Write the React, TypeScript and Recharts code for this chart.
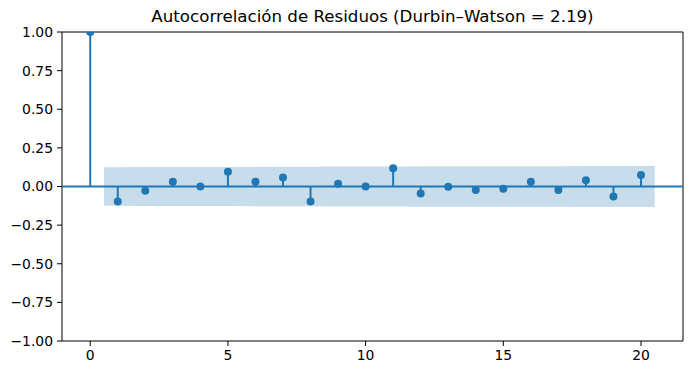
import {
  ComposedChart,
  Area,
  Scatter,
  XAxis,
  YAxis,
  ReferenceLine,
  ReferenceArea,
} from 'recharts';

const BLUE = '#1f77b4';

// Lags and autocorrelation values
const lags = [0, 1, 2, 3, 4, 5, 6, 7, 8, 9, 10, 11, 12, 13, 14, 15, 16, 17, 18, 19, 20];
const acfValues = [
  1.0, -0.097, -0.028, 0.03, 0.0, 0.095, 0.03, 0.058, -0.097, 0.017, 0.0,
  0.118, -0.045, -0.002, -0.022, -0.015, 0.03, -0.022, 0.04, -0.065, 0.075,
];
// Half-width of the 95% confidence band, lags 1..20
const bandHalfWidth = [
  0.125, 0.126, 0.126, 0.126, 0.126, 0.128, 0.128, 0.128, 0.129, 0.129,
  0.129, 0.131, 0.131, 0.131, 0.131, 0.131, 0.131, 0.132, 0.132, 0.132,
];
const xTicks = [0, 5, 10, 15, 20];
const yTicks = [-1, -0.75, -0.5, -0.25, 0, 0.25, 0.5, 0.75, 1];

const points = lags.map((lag, i) => ({ lag, acf: acfValues[i] }));
const bandLags = lags.slice(1);
const band = bandLags.map((lag, i) => ({
  lag: i === 0 ? lag - 0.5 : i === bandLags.length - 1 ? lag + 0.5 : lag,
  range: [-bandHalfWidth[i], bandHalfWidth[i]],
}));

const fmtY = (v: number) => {
  const s = Math.abs(v).toFixed(2);
  return v < 0 ? `\u2212${s}` : s;
};

const tickStyle = { fontSize: 13.9, fill: '#000', fontFamily: 'DejaVu Sans' };

export default function App() {
  return (
    <div style={{ position: 'absolute', left: 0, top: 0, width: 692, height: 374, background: '#fff' }}>
      <div
        style={{
          position: 'absolute',
          left: 62,
          width: 621,
          top: 7,
          textAlign: 'center',
          fontFamily: 'DejaVu Sans',
          fontSize: 16.67,
          lineHeight: '20px',
          color: '#000',
        }}
      >
        Autocorrelación de Residuos (Durbin–Watson = 2.19)
      </div>
      <ComposedChart width={692} height={374} margin={{ top: 32, right: 9, left: 0, bottom: 0 }}>
        <XAxis
          dataKey="lag"
          type="number"
          domain={[-1.025, 21.525]}
          ticks={xTicks}
          allowDataOverflow
          height={33}
          tick={tickStyle}
          tickSize={5}
          tickMargin={4}
          stroke="#000"
          axisLine={false}
        />
        <YAxis
          type="number"
          domain={[-1, 1]}
          ticks={yTicks}
          tickFormatter={fmtY}
          allowDataOverflow
          width={62}
          tick={tickStyle}
          tickSize={5}
          tickMargin={4}
          stroke="#000"
          axisLine={false}
        />
        <Area
          data={band}
          dataKey="range"
          type="linear"
          stroke="none"
          fill={BLUE}
          fillOpacity={0.25}
          isAnimationActive={false}
        />
        <ReferenceLine y={0} stroke={BLUE} strokeWidth={2} />
        {points.map((p) => (
          <ReferenceLine
            key={p.lag}
            segment={[
              { x: p.lag, y: 0 },
              { x: p.lag, y: p.acf },
            ]}
            stroke={BLUE}
            strokeWidth={2}
          />
        ))}
        <Scatter
          data={points}
          dataKey="acf"
          fill={BLUE}
          isAnimationActive={false}
          shape={(props: any) => <circle cx={props.cx} cy={props.cy} r={4} fill={BLUE} />}
        />
        <ReferenceArea
          x1={-1.025}
          x2={21.525}
          y1={-1}
          y2={1}
          fill="none"
          stroke="#000"
          strokeWidth={1}
        />
      </ComposedChart>
    </div>
  );
}
